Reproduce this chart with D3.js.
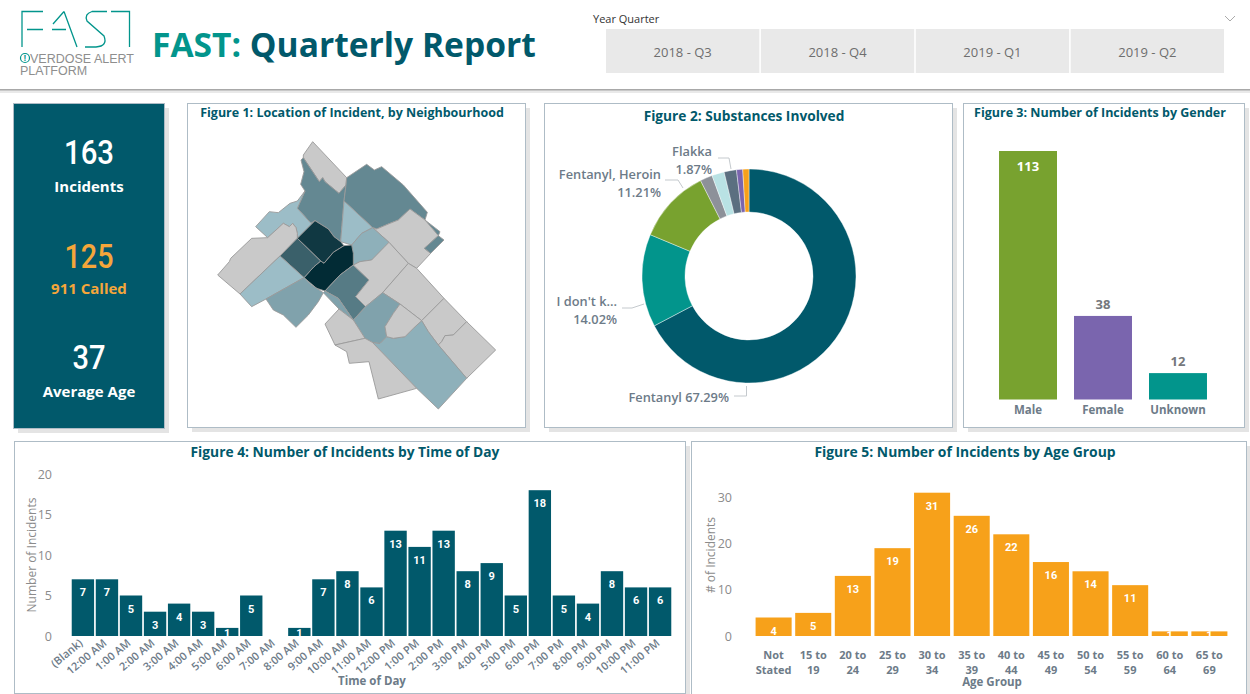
<!DOCTYPE html>
<html>
<head>
<meta charset="utf-8">
<script src="https://cdn.jsdelivr.net/npm/d3@7"></script>
<style>
    html, body { margin: 0; padding: 0; background: white; overflow: hidden; }
    text { font-family: "Open Sans", sans-serif; }
    .axis path, .axis line { display: none; }
</style>
</head>
<body>
<div id="chart"></div>
<script>

// data

const quarters = ['2018 - Q3', '2018 - Q4', '2019 - Q1', '2019 - Q2'];

const kpiValues = ['163', '125', '37'];
const kpiLabels = ['Incidents', '911 Called', 'Average Age'];

const substances = ['Fentanyl', "I don't know", 'Fentanyl, Heroin', 'Other 1', 'Other 2', 'Flakka', 'Other 3', 'Other 4'];
const substanceCounts = [72, 15, 12, 2, 2, 2, 1, 1];

const genders = ['Male', 'Female', 'Unknown'];
const genderCounts = [113, 38, 12];

const hours = ['(Blank)', '12:00 AM', '1:00 AM', '2:00 AM', '3:00 AM', '4:00 AM', '5:00 AM', '6:00 AM', '7:00 AM',
    '8:00 AM', '9:00 AM', '10:00 AM', '11:00 AM', '12:00 PM', '1:00 PM', '2:00 PM', '3:00 PM', '4:00 PM', '5:00 PM',
    '6:00 PM', '7:00 PM', '8:00 PM', '9:00 PM', '10:00 PM', '11:00 PM'];
const hourCounts = [7, 7, 5, 3, 4, 3, 1, 5, 0, 1, 7, 8, 6, 13, 11, 13, 8, 9, 5, 18, 5, 4, 8, 6, 6];
const hourTicks = [0, 5, 10, 15, 20];

const ageGroups = ['Not Stated', '15 to 19', '20 to 24', '25 to 29', '30 to 34', '35 to 39', '40 to 44', '45 to 49',
    '50 to 54', '55 to 59', '60 to 64', '65 to 69'];
const ageCounts = [4, 5, 13, 19, 31, 26, 22, 16, 14, 11, 1, 1];
const ageTicks = [0, 10, 20, 30];

// neighbourhood outlines, traced in map units, with an estimated incident count (0 = none)
const neighbourhoods = [
    [0, [[340,90],[368,50],[470,158],[468,180],[447,205],[405,170],[398,158],[388,170],[340,98]]],
    [5, [[333,105],[340,98],[388,170],[398,158],[405,170],[447,205],[468,180],[462,228],[452,350],[432,335],[415,312],[375,287],[363,295],[322,250],[345,198],[332,178],[342,140]]],
    [5, [[470,158],[530,118],[553,135],[575,125],[640,180],[712,262],[705,285],[750,320],[745,332],[705,285],[660,252],[625,285],[600,295],[560,312],[548,308],[462,228],[468,180]]],
    [0, [[560,312],[600,295],[625,285],[660,252],[705,285],[745,332],[703,370],[722,385],[680,430],[655,415],[597,352],[548,308]]],
    [5, [[703,370],[745,332],[762,345],[722,385]]],
    [1, [[462,228],[548,308],[515,325],[485,360],[452,350]]],
    [2, [[548,308],[597,352],[570,380],[545,405],[510,410],[490,420],[485,360],[515,325]]],
    [1, [[197,305],[238,260],[265,263],[300,235],[322,228],[345,198],[322,250],[363,295],[375,287],[322,340],[322,325],[318,308],[308,295],[298,305],[280,295],[233,338]]],
    [0, [[83,450],[118,410],[122,400],[185,340],[233,338],[280,295],[298,305],[308,295],[318,308],[322,325],[322,340],[270,393],[150,507]]],
    [11, [[322,340],[375,287],[415,312],[432,335],[452,350],[462,362],[430,382],[402,415],[392,408]]],
    [12, [[402,415],[430,382],[462,362],[485,360],[490,385],[490,420],[450,450],[405,498],[380,490],[342,458],[372,425],[392,408]]],
    [8, [[270,393],[322,340],[392,408],[372,425],[342,458]]],
    [1, [[150,507],[270,393],[342,458],[228,522],[185,545]]],
    [3, [[228,522],[342,458],[365,480],[400,503],[385,530],[355,570],[318,607],[280,570],[250,555]]],
    [6, [[405,498],[450,450],[490,420],[537,465],[497,515],[527,545],[490,585],[445,520]]],
    [3, [[400,503],[405,498],[445,520],[490,585],[447,552]]],
    [0, [[490,420],[510,410],[545,405],[597,352],[655,415],[578,503],[527,545],[497,515],[537,465]]],
    [0, [[578,503],[655,415],[680,430],[762,520],[695,587],[630,537]]],
    [0, [[695,587],[762,520],[830,590],[790,630],[765,632],[755,650],[745,660],[715,620]]],
    [0, [[745,660],[755,650],[765,632],[790,630],[830,590],[917,675],[830,760]]],
    [2, [[547,652],[570,655],[590,635],[610,640],[645,635],[670,610],[695,587],[715,620],[745,660],[830,760],[745,852],[680,790]]],
    [3, [[490,585],[527,545],[578,503],[630,537],[610,565],[585,605],[590,635],[570,655],[547,652],[525,640]]],
    [0, [[630,537],[695,587],[670,610],[645,635],[610,640],[590,635],[585,605],[610,565]]],
    [0, [[405,597],[447,552],[490,585],[525,640],[435,660]]],
    [0, [[435,660],[525,640],[547,652],[680,790],[565,822],[537,710],[478,715],[470,680]]]
];

const colors = {
    teal: '#01596b', green: '#02958c', olive: '#78a22f', purple: '#7a65ae', orange: '#f7a11a',
    text: '#6d7b88', tick: '#8b8b8b', border: '#aebcc6', shadow: '#e4e4e4'
};

const svg = d3.select('#chart').append('svg')
    .attr('width', 1250)
    .attr('height', 694);

svg.append('rect').attr('width', 1250).attr('height', 694).attr('fill', 'white');


// panels with their drop shadow
function panel(x, y, w, h, fill) {
    svg.append('rect')
        .attr('x', x + 5).attr('y', y + 5).attr('width', w).attr('height', h)
        .attr('fill', colors.shadow);
    svg.append('rect')
        .attr('x', x + 0.5).attr('y', y + 0.5).attr('width', w).attr('height', h)
        .attr('fill', fill || 'white')
        .attr('stroke', colors.border);
}

function panelTitle(text, x, y, size) {
    svg.append('text')
        .attr('x', x).attr('y', y)
        .attr('text-anchor', 'middle')
        .style('font-size', size + 'px')
        .style('font-weight', 700)
        .style('fill', colors.teal)
        .text(text);
}

panel(13, 103, 151, 325, colors.teal);
panel(187, 103, 338, 324);
panel(544, 103, 408, 324);
panel(963, 103, 281, 324);
panel(14, 441, 671, 252);
panel(691, 441, 555, 260);


// header
const header = svg.append('g');

header.append('rect').attr('x', 0).attr('y', 89).attr('width', 1250).attr('height', 4).attr('fill', '#e9e9e9');
header.append('rect').attr('x', 0).attr('y', 89).attr('width', 1250).attr('height', 1.5).attr('fill', '#a8a8a8');

// logo strokes
header.append('path')
    .attr('d', 'M43 11.5H22V47 M27 29.5H43 M52 29.5H66 M64 11.5L77 47 M64 11.5L53 24 M107 11.5H92Q84 14 87 21L104 36Q108 46 96 47H85 M111 11.5H129.5V47')
    .attr('fill', 'none')
    .attr('stroke', colors.green)
    .attr('stroke-width', 1.3);
header.append('circle').attr('cx', 25).attr('cy', 58).attr('r', 4.5)
    .attr('fill', 'none').attr('stroke', colors.green).attr('stroke-width', 1.2);
header.append('text').attr('x', 25).attr('y', 61).attr('text-anchor', 'middle')
    .style('font-size', '8px').style('font-weight', 700).style('fill', colors.green).text('!');
header.append('text').attr('x', 30).attr('y', 63)
    .style('font-family', '"Liberation Sans"').style('font-size', '12.5px').style('fill', '#8e8e8e').text('VERDOSE ALERT');
header.append('text').attr('x', 20).attr('y', 75)
    .style('font-family', '"Liberation Sans"').style('font-size', '12.5px').style('fill', '#8e8e8e').text('PLATFORM');

const title = header.append('text')
    .attr('x', 152).attr('y', 57)
    .style('font-size', '33.6px')
    .style('font-weight', 700);
title.append('tspan').style('fill', colors.green).text('FAST: ');
title.append('tspan').style('fill', colors.teal).text('Quarterly Report');

// quarter slicer
header.append('text').attr('x', 593).attr('y', 23)
    .style('font-size', '11px').style('fill', '#333').text('Year Quarter');
header.append('path').attr('d', 'M1225 16L1230 21L1235 16')
    .attr('fill', 'none').attr('stroke', '#aaa');

const slicerScale = d3.scaleBand().domain(quarters).range([606, 1224]).paddingInner(0.01);

header.selectAll('.slicer')
    .data(quarters)
    .enter()
    .append('rect')
    .attr('class', 'slicer')
    .attr('x', d => slicerScale(d))
    .attr('y', 29)
    .attr('width', slicerScale.bandwidth())
    .attr('height', 44)
    .attr('fill', '#e9e9e9');

header.selectAll('.slicer-label')
    .data(quarters)
    .enter()
    .append('text')
    .attr('class', 'slicer-label')
    .attr('x', d => slicerScale(d) + slicerScale.bandwidth() / 2)
    .attr('y', 57)
    .attr('text-anchor', 'middle')
    .style('font-size', '13px')
    .style('fill', '#6e6e6e')
    .text(d => d);


// KPI card
const kpiY = [164, 268, 369];
const kpiLabelY = [192, 294, 397];
const kpiWidth = [50, 49, 33];
const kpiColor = ['white', '#f5a63a', 'white'];

kpiValues.forEach(function (v, i) {
    svg.append('text')
        .attr('x', 89).attr('y', kpiY[i])
        .attr('text-anchor', 'middle')
        .attr('textLength', kpiWidth[i])
        .attr('lengthAdjust', 'spacingAndGlyphs')
        .style('font-family', 'Roboto')
        .style('font-size', '33px')
        .style('font-weight', 500)
        .style('fill', kpiColor[i])
        .text(v);
    svg.append('text')
        .attr('x', 89).attr('y', kpiLabelY[i])
        .attr('text-anchor', 'middle')
        .style('font-size', '15px')
        .style('font-weight', 700)
        .style('fill', kpiColor[i])
        .text(kpiLabels[i]);
});


// figure 1: map
panelTitle('Figure 1: Location of Incident, by Neighbourhood', 352, 117, 12.5);

const mapX = d3.scaleLinear().domain([0, 1000]).range([190, 523.33]);
const mapY = d3.scaleLinear().domain([0, 900]).range([125, 425]);
const mapColor = d3.scaleLinear().domain([1, 12]).range(['#9cbdc7', '#022b35']);
const mapLine = d3.line().x(d => mapX(d[0])).y(d => mapY(d[1])).curve(d3.curveLinearClosed);

svg.append('g').selectAll('path')
    .data(neighbourhoods)
    .enter()
    .append('path')
    .attr('d', d => mapLine(d[1]))
    .attr('fill', d => d[0] === 0 ? '#c9c9c9' : mapColor(d[0]))
    .attr('stroke', '#9a9a9a')
    .attr('stroke-width', 0.9)
    .attr('stroke-linejoin', 'round');


// figure 2: donut
panelTitle('Figure 2: Substances Involved', 744, 120.5, 13.7);

const donutColors = d3.scaleOrdinal()
    .domain(substances)
    .range([colors.teal, colors.green, colors.olive, '#8d9199', '#b9e2e4', '#5b6f80', colors.purple, colors.orange]);

const pie = d3.pie().sort(null).value((d, i) => substanceCounts[i]);
const arc = d3.arc().innerRadius(64).outerRadius(107);

svg.append('g')
    .attr('transform', 'translate(749, 276)')
    .selectAll('path')
    .data(pie(substances))
    .enter()
    .append('path')
    .attr('d', arc)
    .attr('fill', d => donutColors(d.data))
    .attr('stroke', 'white')
    .attr('stroke-width', 0.4);

const pct = i => d3.format('.2f')(substanceCounts[i] / d3.sum(substanceCounts) * 100) + '%';

const donutNotes = [
    {lines: [substances[0] + ' ' + pct(0)], x: 729, y: 402, leader: 'M746.5 386V396H734'},
    {lines: ["I don't k...", pct(1)], x: 617, y: 306, leader: 'M644 304L632 308H622'},
    {lines: [substances[2], pct(2)], x: 661, y: 179, leader: 'M683 188L678 180H665'},
    {lines: [substances[5], pct(5)], x: 712, y: 156, leader: 'M731 169L729 158H718'}
];

donutNotes.forEach(function (n) {
    svg.append('path').attr('d', n.leader).attr('fill', 'none').attr('stroke', '#c4c9cd');
    n.lines.forEach(function (line, i) {
        svg.append('text')
            .attr('x', n.x).attr('y', n.y + i * 18)
            .attr('text-anchor', 'end')
            .style('font-size', '12.8px')
            .style('font-weight', 600)
            .style('fill', colors.text)
            .text(line);
    });
});


// figure 3: gender bars
panelTitle('Figure 3: Number of Incidents by Gender', 1100, 117, 12.5);

const genderX = d3.scaleBand().domain(genders).range([982, 1224]).padding(0.227);
const genderY = d3.scaleLinear().domain([0, 113]).range([399.5, 151]);
const genderColor = d3.scaleOrdinal().domain(genders).range([colors.olive, colors.purple, colors.green]);

svg.selectAll('.gender-bar')
    .data(genders)
    .enter()
    .append('rect')
    .attr('class', 'gender-bar')
    .attr('x', d => genderX(d))
    .attr('y', (d, i) => genderY(genderCounts[i]))
    .attr('width', genderX.bandwidth())
    .attr('height', (d, i) => genderY(0) - genderY(genderCounts[i]))
    .attr('fill', d => genderColor(d));

svg.selectAll('.gender-value')
    .data(genders)
    .enter()
    .append('text')
    .attr('class', 'gender-value')
    .attr('x', d => genderX(d) + genderX.bandwidth() / 2)
    .attr('y', (d, i) => i === 0 ? genderY(genderCounts[i]) + 20 : genderY(genderCounts[i]) - 7)
    .attr('text-anchor', 'middle')
    .style('font-size', '13px')
    .style('font-weight', 700)
    .style('fill', (d, i) => i === 0 ? 'white' : '#75787c')
    .text((d, i) => genderCounts[i]);

svg.append('g')
    .attr('class', 'axis')
    .attr('transform', 'translate(0, 399.5)')
    .call(d3.axisBottom(genderX).tickSize(0).tickPadding(6))
    .call(g => g.selectAll('text')
        .style('font-family', '"Open Sans"')
        .style('font-size', '11.5px')
        .style('font-weight', 700)
        .style('fill', colors.text));


// figure 4: time of day
panelTitle('Figure 4: Number of Incidents by Time of Day', 345, 456.5, 13.8);

const hourX = d3.scaleBand().domain(hours).range([71, 672]).paddingInner(0.07).paddingOuter(0.03);
const hourY = d3.scaleLinear().domain([0, 20]).range([636, 474]);

svg.selectAll('.hour-bar')
    .data(hours)
    .enter()
    .append('rect')
    .attr('class', 'hour-bar')
    .attr('x', d => hourX(d))
    .attr('y', (d, i) => hourY(hourCounts[i]))
    .attr('width', hourX.bandwidth())
    .attr('height', (d, i) => hourY(0) - hourY(hourCounts[i]))
    .attr('fill', colors.teal);

// labels sit inside the bar top but stop at the baseline on short bars
svg.selectAll('.hour-value')
    .data(hours)
    .enter()
    .append('text')
    .attr('class', 'hour-value')
    .attr('x', d => hourX(d) + hourX.bandwidth() / 2)
    .attr('y', (d, i) => Math.min(hourY(hourCounts[i]) + 17, 637))
    .attr('text-anchor', 'middle')
    .style('font-family', 'Roboto')
    .style('font-size', '11px')
    .style('font-weight', 700)
    .style('fill', 'white')
    .text((d, i) => hourCounts[i] > 0 ? hourCounts[i] : '');

svg.append('g')
    .attr('class', 'axis')
    .attr('transform', 'translate(52, 0)')
    .call(d3.axisLeft(hourY).tickValues(hourTicks).tickSize(0).tickPadding(0))
    .call(g => g.selectAll('text')
        .style('font-family', '"Open Sans"')
        .style('font-size', '12.5px')
        .style('fill', colors.tick));

svg.append('g')
    .attr('class', 'axis')
    .attr('transform', 'translate(0, 636)')
    .call(d3.axisBottom(hourX).tickSize(0))
    .call(g => g.selectAll('text')
        .attr('text-anchor', 'end')
        .attr('transform', 'translate(-3, 4) rotate(-40)')
        .attr('dy', '0.5em')
        .attr('y', 0)
        .style('font-family', '"Open Sans"')
        .style('font-size', '11px')
        .style('font-weight', 600)
        .style('fill', colors.text));

svg.append('text')
    .attr('transform', 'translate(36, 555) rotate(-90)')
    .attr('text-anchor', 'middle')
    .style('font-size', '12px')
    .style('fill', colors.tick)
    .text('Number of Incidents');

svg.append('text')
    .attr('x', 372).attr('y', 685)
    .attr('text-anchor', 'middle')
    .style('font-size', '11.5px')
    .style('font-weight', 700)
    .style('fill', colors.text)
    .text('Time of Day');


// figure 5: age group
panelTitle('Figure 5: Number of Incidents by Age Group', 965, 456.5, 13.9);

const ageX = d3.scaleBand().domain(ageGroups).range([754, 1229]).paddingInner(0.09).paddingOuter(0.04);
const ageY = d3.scaleLinear().domain([0, 31]).range([636, 492.7]);

svg.selectAll('.age-bar')
    .data(ageGroups)
    .enter()
    .append('rect')
    .attr('class', 'age-bar')
    .attr('x', d => ageX(d))
    .attr('y', (d, i) => ageY(ageCounts[i]))
    .attr('width', ageX.bandwidth())
    .attr('height', (d, i) => ageY(0) - ageY(ageCounts[i]))
    .attr('fill', colors.orange);

svg.selectAll('.age-value')
    .data(ageGroups)
    .enter()
    .append('text')
    .attr('class', 'age-value')
    .attr('x', d => ageX(d) + ageX.bandwidth() / 2)
    .attr('y', (d, i) => Math.min(ageY(ageCounts[i]) + 17, 639))
    .attr('text-anchor', 'middle')
    .style('font-family', 'Roboto')
    .style('font-size', '11px')
    .style('font-weight', 700)
    .style('fill', 'white')
    .text((d, i) => ageCounts[i]);

svg.append('g')
    .attr('class', 'axis')
    .attr('transform', 'translate(732, 0)')
    .call(d3.axisLeft(ageY).tickValues(ageTicks).tickSize(0).tickPadding(0))
    .call(g => g.selectAll('text')
        .style('font-family', '"Open Sans"')
        .style('font-size', '12.5px')
        .style('fill', colors.tick));

// two line tick labels
const ageAxis = svg.append('g')
    .attr('class', 'axis')
    .attr('transform', 'translate(0, 636)')
    .call(d3.axisBottom(ageX).tickSize(0));

ageAxis.selectAll('text')
    .attr('y', 0)
    .attr('dy', 0)
    .style('font-family', '"Open Sans"')
    .style('font-size', '11px')
    .style('font-weight', 700)
    .style('fill', colors.text)
    .each(function (d) {
        let parts = d === 'Not Stated' ? ['Not', 'Stated'] : [d.slice(0, 5), d.slice(6)];
        let t = d3.select(this).text(null);
        parts.forEach(function (p, i) {
            t.append('tspan').attr('x', 0).attr('y', 23 + i * 14.5).text(p);
        });
    });

svg.append('text')
    .attr('transform', 'translate(715, 555) rotate(-90)')
    .attr('text-anchor', 'middle')
    .style('font-size', '12px')
    .style('fill', colors.tick)
    .text('# of Incidents');

svg.append('text')
    .attr('x', 992).attr('y', 686)
    .attr('text-anchor', 'middle')
    .style('font-size', '11.5px')
    .style('font-weight', 700)
    .style('fill', colors.text)
    .text('Age Group');

</script>
</body>
</html>
